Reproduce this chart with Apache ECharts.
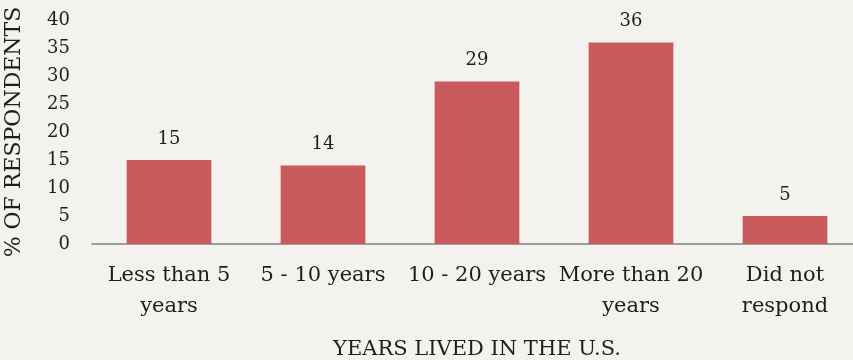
<!DOCTYPE html>
<html>
<head>
<meta charset="utf-8">
<script src="https://cdn.jsdelivr.net/npm/echarts@6/dist/echarts.min.js"></script>
<style>
  html, body { margin: 0; padding: 0; background: #f3f2ee; }
  #chart { width: 853px; height: 360px; }
</style>
</head>
<body>
<div id="chart"></div>
<script>
// Years lived in the U.S. — share of respondents (%)
const categories = ['Less than 5\nyears', '5 - 10 years', '10 - 20 years', 'More than 20\nyears', 'Did not\nrespond'];
const percentages = [15, 14, 29, 36, 5];
const yTicks = [0, 5, 10, 15, 20, 25, 30, 35, 40];

const serif = '"DejaVu Serif", "Liberation Serif", serif';
const ink = '#1e1e1e';
const chart = echarts.init(document.getElementById('chart'));
chart.setOption({
  backgroundColor: '#f3f2ee',
  animation: false,
  grid: { left: 92, right: -9, top: 20, bottom: 116, containLabel: false, outerBoundsMode: 'none' },
  xAxis: {
    type: 'category',
    data: categories,
    name: 'YEARS LIVED IN THE U.S.',
    nameLocation: 'middle',
    nameGap: 95,
    nameTextStyle: { fontFamily: serif, fontSize: 21, color: ink },
    axisLine: { lineStyle: { color: '#9c9c99', width: 2 } },
    axisTick: { show: false },
    axisLabel: { fontFamily: serif, fontSize: 21, color: ink, margin: 16, lineHeight: 31, interval: 0 }
  },
  yAxis: {
    type: 'value',
    min: yTicks[0],
    max: yTicks[yTicks.length - 1],
    interval: 5,
    name: '% OF RESPONDENTS',
    nameLocation: 'middle',
    nameGap: 67,
    nameTextStyle: { fontFamily: serif, fontSize: 22, color: ink },
    axisLine: { show: false },
    axisTick: { show: false },
    splitLine: { show: false },
    axisLabel: { fontFamily: serif, fontSize: 18, color: ink, margin: 22 }
  },
  series: [{
    type: 'bar',
    data: percentages,
    barWidth: '55%',
    itemStyle: { color: '#c85a5b' },
    label: { show: true, position: 'top', distance: 12, fontFamily: serif, fontSize: 18, color: ink }
  }]
});
</script>
</body>
</html>
